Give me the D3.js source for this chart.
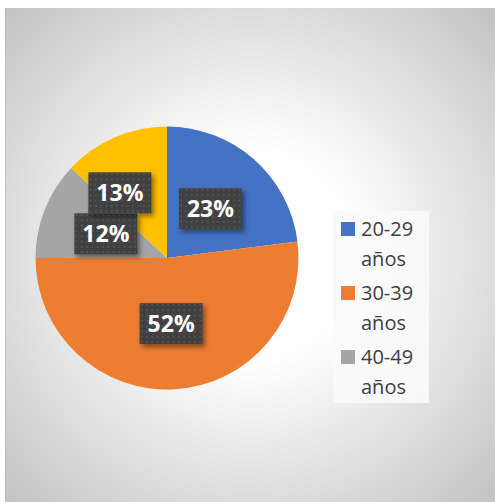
<!DOCTYPE html>
<html><head><meta charset="utf-8">
<script src="https://cdn.jsdelivr.net/npm/d3@7"></script>
<style>html,body{margin:0;padding:0;background:#fff;}svg{display:block;}</style>
</head><body>
<svg id="c" width="495" height="502"></svg>
<script>
const categories = ["20-29 años","30-39 años","40-49 años",""];
const values = [23, 52, 12, 13];
const labels = ["23%","52%","12%","13%"];
const legendLabels = [["20-29","años"],["30-39","años"],["40-49","años"]];
const colors = ["#4472C4","#ED7D31","#A5A5A5","#FFC000"];

const svg = d3.select("#c");
const defs = svg.append("defs");
const rg = defs.append("radialGradient").attr("id","bg").attr("gradientUnits","userSpaceOnUse")
  .attr("cx",250).attr("cy",255).attr("r",350);
rg.append("stop").attr("offset","0").attr("stop-color","#ffffff");
rg.append("stop").attr("offset","0.3").attr("stop-color","#ffffff");
rg.append("stop").attr("offset","1").attr("stop-color","#c2c2c2");
const pat = defs.append("pattern").attr("id","dots").attr("patternUnits","userSpaceOnUse")
  .attr("width",5.33).attr("height",5.33);
pat.append("rect").attr("width",5.33).attr("height",5.33).attr("fill","#404040");
pat.append("rect").attr("x",1.5).attr("y",1.5).attr("width",2).attr("height",2).attr("fill","#535353");
const f = defs.append("filter").attr("id","sh").attr("x","-30%").attr("y","-30%").attr("width","170%").attr("height","170%");
f.append("feDropShadow").attr("dx",2.5).attr("dy",3).attr("stdDeviation",2.5).attr("flood-color","#000").attr("flood-opacity",0.45);

// frame
svg.append("rect").attr("x",6).attr("y",8).attr("width",489).attr("height",494).attr("fill","url(#bg)");
svg.append("line").attr("x1",5.5).attr("x2",5.5).attr("y1",8).attr("y2",502).attr("stroke","#bdbdbd").attr("stroke-width",1);

const cx = 167, cy = 258, r = 131.5;
const pie = d3.pie().sort(null).value(d => d)(values);
const arc = d3.arc().innerRadius(0).outerRadius(r);
const g = svg.append("g").attr("transform",`translate(${cx},${cy})`);
g.selectAll("path").data(pie).join("path").attr("d",arc).attr("fill",(d,i)=>colors[i]);

// labels
const la = d3.arc().innerRadius(r*0.5).outerRadius(r*0.5);
const bw = 63, bh = 41;
const pos = pie.map(d => la.centroid(d));
// resolve overlap: push later label away (up/left) from earlier one
for (let i = 1; i < pos.length; i++) {
  for (let j = 0; j < i; j++) {
    const ox = bw - Math.abs(pos[i][0]-pos[j][0]);
    const oy = bh - Math.abs(pos[i][1]-pos[j][1]);
    if (ox > 0 && oy > 0) {
      pos[i][1] = pos[j][1] - bh;
      pos[i][0] = pos[i][0] - 21;
    }
  }
}
const lg = g.selectAll("g.lab").data(pie).join("g").attr("class","lab")
  .attr("transform",(d,i)=>`translate(${pos[i][0]},${pos[i][1]})`);
lg.append("rect").attr("x",-bw/2).attr("y",-bh/2).attr("width",bw).attr("height",bh)
  .attr("fill","url(#dots)").attr("filter","url(#sh)");
lg.append("text").attr("text-anchor","middle").attr("dy","0.36em")
  .attr("font-family","'Open Sans', sans-serif").attr("font-weight",700).attr("font-size",23)
  .attr("fill","#ffffff").text((d,i)=>labels[i]);

// legend
svg.append("rect").attr("x",333).attr("y",211).attr("width",96).attr("height",192).attr("fill","#fafafa").attr("opacity",0.9);
const leg = svg.selectAll("g.leg").data(legendLabels).join("g").attr("class","leg")
  .attr("transform",(d,i)=>`translate(341,${222 + i*64})`);
leg.append("rect").attr("width",14).attr("height",14).attr("fill",(d,i)=>colors[i]);
leg.append("text").attr("x",20).attr("y",14).attr("font-family","'Open Sans', sans-serif").attr("font-size",20).attr("fill","#404040")
  .selectAll("tspan").data(d=>d).join("tspan").attr("x",20).attr("dy",(d,k)=>k===0?0:29.5).text(d=>d);
</script>
</body></html>
